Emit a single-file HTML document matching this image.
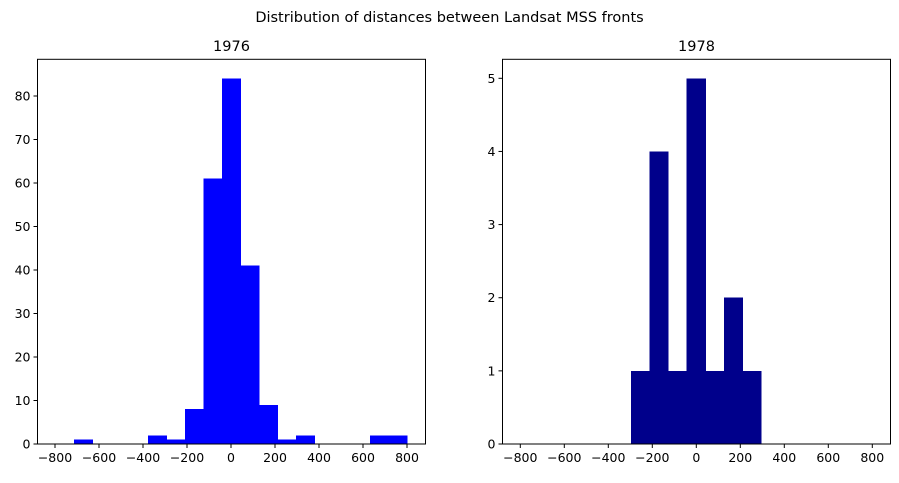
<!DOCTYPE html>
<html><head><meta charset="utf-8"><style>
body{margin:0;background:#fff;font-family:"Liberation Sans","DejaVu Sans",sans-serif;}
svg text{font-family:"DejaVu Sans","Liberation Sans",sans-serif;}
</style></head><body>
<svg id="fig" width="899" height="478" xmlns="http://www.w3.org/2000/svg">
<text x="449.5" y="22" font-size="14.5" text-anchor="middle">Distribution of distances between Landsat MSS fronts</text>
</svg>
<script>
const edges1976=[-714,-630,-546,-462,-378,-293,-209,-125,-41,43,127,211,296,380,464,548,632,716,800];
const counts1976=[1,0,0,0,2,1,8,61,84,41,9,1,2,0,0,0,2,2];
const edges1978=[-297,-213,-128,-44,41,125,210,294];
const counts1978=[1,4,1,5,1,2,1];
const xTicks=[-800,-600,-400,-200,0,200,400,600,800];
const yTicks1976=[0,10,20,30,40,50,60,70,80];
const yTicks1978=[0,1,2,3,4,5];
const NS="http://www.w3.org/2000/svg";
const svg=document.getElementById('fig');
function mk(tag,attrs,parent){const e=document.createElementNS(NS,tag);for(const k in attrs)e.setAttribute(k,attrs[k]);(parent||svg).appendChild(e);return e;}
function panel(name,left,x0,ymaxPx,ymaxVal,edges,counts,yTicks,color,title){
  const top=59.3,bottom=444,width=388;
  const g=mk('g',{});
  
  
  const sx=v=>x0+v*0.22;
  const sy=v=>bottom-v*(bottom-ymaxPx)/ymaxVal;
  for(let i=0;i<counts.length;i++){
    if(!counts[i])continue;
    const r=mk('rect',{x:sx(edges[i]),y:sy(counts[i]),width:sx(edges[i+1])-sx(edges[i])+0.5,height:bottom-sy(counts[i]),fill:color,'shape-rendering':'crispEdges'},g);
    
    
  }
  const fr=mk('rect',{x:left,y:top,width:width,height:bottom-top,fill:'none',stroke:'#000','stroke-width':1},g);
  
  
  xTicks.forEach(t=>{const x=sx(t);mk('line',{x1:x,x2:x,y1:bottom,y2:bottom+4,stroke:'#000'},g);
    const tx=mk('text',{x:x,y:bottom+18,'font-size':12.5,'text-anchor':'middle'},g);tx.textContent=(t<0?'\u2212'+(-t):t);
    
    });
  yTicks.forEach(t=>{const y=sy(t);mk('line',{x1:left-4,x2:left,y1:y,y2:y,stroke:'#000'},g);
    const tx=mk('text',{x:left-7,y:y+4.5,'font-size':12.5,'text-anchor':'end'},g);tx.textContent=t;
    
    });
  const tt=mk('text',{x:left+width/2,y:51,'font-size':14.5,'text-anchor':'middle'},g);tt.textContent=title;
  
  
}
panel('histogram-1976',37.5,231,96,80,edges1976,counts1976,yTicks1976,'#0000ff','1976');
panel('histogram-1978',502.5,696.3,78.3,5,edges1978,counts1978,yTicks1978,'#00008b','1978');
</script>
</body></html>
